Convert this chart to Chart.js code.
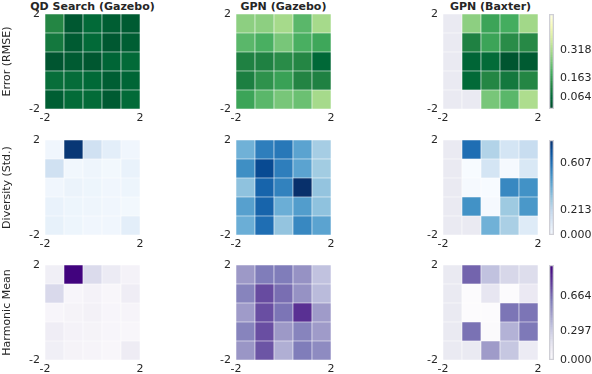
<!DOCTYPE html>
<html>
<head>
<meta charset="utf-8">
<script src="https://cdn.jsdelivr.net/npm/chart.js@4.4.0/dist/chart.umd.min.js"></script>
<style>
  body { margin: 0; width: 592px; height: 374px; overflow: hidden; background: #fff; position: relative; }
  canvas { position: absolute; }
  .title { position: absolute; top: 0; width: 200px; text-align: center; font: bold 11px 'DejaVu Sans'; line-height: 13px; color: #262626; white-space: nowrap; }
</style>
</head>
<body>
<script>
const methods = ['QD Search (Gazebo)', 'GPN (Gazebo)', 'GPN (Baxter)'];
const metrics = ['Error (RMSE)', 'Diversity (Std.)', 'Harmonic Mean'];
const axisTicks = [-2, 2];

// 5x5 grids, rows top -> bottom, columns left -> right, null = no data
const errQD = [
  [0.13, 0.035, 0.068, 0.045, 0.04],
  [0.10, 0.04, 0.068, 0.035, 0.045],
  [0.03, 0.04, 0.032, 0.058, 0.068],
  [0.078, 0.073, 0.066, 0.045, 0.058],
  [0.045, 0.07, 0.07, 0.04, 0.068]
];
const errGazebo = [
  [0.28, 0.28, 0.31, 0.22, 0.31],
  [0.22, 0.20, 0.255, 0.20, 0.185],
  [0.12, 0.12, 0.14, 0.13, 0.064],
  [0.115, 0.15, 0.175, 0.128, 0.12],
  [0.18, 0.22, 0.255, 0.24, 0.31]
];
const errBaxter = [
  [null, 0.28, 0.18, 0.195, 0.305],
  [null, 0.12, 0.18, 0.14, 0.135],
  [null, 0.058, 0.07, 0.03, 0.04],
  [null, 0.068, 0.13, 0.10, 0.13],
  [null, null, 0.255, 0.22, 0.32]
];
const divQD = [
  [0.03, 0.78, 0.16, 0.08, 0.03],
  [0.16, 0.025, 0.035, 0.02, 0.056],
  [0.03, 0.05, 0.04, 0.03, 0.04],
  [0.055, 0.04, 0.035, 0.03, 0.02],
  [0.065, 0.04, 0.03, 0.03, 0.08]
];
const divGazebo = [
  [0.39, 0.56, 0.58, 0.44, 0.28],
  [0.51, 0.72, 0.56, 0.44, 0.29],
  [0.33, 0.64, 0.55, 0.80, 0.32],
  [0.45, 0.64, 0.40, 0.46, 0.33],
  [0.40, 0.61, 0.32, 0.53, 0.44]
];
const divBaxter = [
  [null, 0.61, 0.25, 0.14, 0.19],
  [null, 0.0, 0.14, 0.01, 0.12],
  [null, 0.01, 0.0, 0.53, 0.50],
  [null, 0.50, 0.01, 0.30, 0.48],
  [null, null, 0.39, 0.27, 0.10]
];
const hmQD = [
  [0.11, 0.98, 0.24, 0.14, 0.08],
  [0.25, 0.05, 0.08, 0.04, 0.12],
  [0.05, 0.07, 0.09, 0.05, 0.06],
  [0.12, 0.08, 0.07, 0.05, 0.04],
  [0.11, 0.07, 0.06, 0.04, 0.13]
];
const hmGazebo = [
  [0.50, 0.62, 0.62, 0.53, 0.35],
  [0.59, 0.76, 0.66, 0.53, 0.38],
  [0.49, 0.75, 0.64, 0.84, 0.49],
  [0.59, 0.75, 0.50, 0.59, 0.49],
  [0.51, 0.73, 0.42, 0.62, 0.56]
];
const hmBaxter = [
  [null, 0.69, 0.35, 0.26, 0.23],
  [null, 0.0, 0.17, 0.0, 0.15],
  [null, 0.0, 0.0, 0.64, 0.64],
  [null, 0.65, 0.01, 0.41, 0.63],
  [null, null, 0.49, 0.33, 0.14]
];

// colorbar ticks and ranges
const errTicks = [0.064, 0.163, 0.318];
const divTicks = [0.000, 0.213, 0.607];
const hmTicks = [0.000, 0.297, 0.664];
const errMax = 0.51, divMax = 0.80, hmMax = 0.99;

const YlGn_r = ['#004529', '#006837', '#238443', '#41ab5d', '#78c679', '#addd8e', '#d9f0a3', '#f7fcb9', '#ffffe5'];
const Blues = ['#f7fbff', '#deebf7', '#c6dbef', '#9ecae1', '#6baed6', '#4292c6', '#2171b5', '#08519c', '#08306b'];
const Purples = ['#fcfbfd', '#efedf5', '#dadaeb', '#bcbddc', '#9e9ac8', '#807dba', '#6a51a3', '#54278f', '#3f007d'];
const nanColor = '#eaeaf2';
const textColor = '#262626';

function hex(h) { return [1, 3, 5].map(i => parseInt(h.substr(i, 2), 16)); }
function cmap(stops, t) {
  t = Math.max(0, Math.min(1, t));
  const p = t * (stops.length - 1);
  const i = Math.min(Math.floor(p), stops.length - 2);
  const f = p - i;
  const a = hex(stops[i]), b = hex(stops[i + 1]);
  const c = a.map((v, k) => Math.round(v + (b[k] - v) * f));
  return 'rgb(' + c.join(',') + ')';
}

Chart.defaults.font.family = 'DejaVu Sans';
Chart.defaults.font.size = 11;
Chart.defaults.color = textColor;

const rows = [
  { grids: [errQD, errGazebo, errBaxter], stops: YlGn_r, max: errMax, ticks: errTicks },
  { grids: [divQD, divGazebo, divBaxter], stops: Blues, max: divMax, ticks: divTicks },
  { grids: [hmQD, hmGazebo, hmBaxter], stops: Purples, max: hmMax, ticks: hmTicks }
];

const colLeft = [45, 236, 443];
const rowTop = [14, 140, 265];
const mapW = 95, mapH = 95;
const topPad = 14, bottomH = 17, rightPad = 8;

function addCanvas(left, top, w, h) {
  const c = document.createElement('canvas');
  c.width = w; c.height = h;
  c.style.left = left + 'px'; c.style.top = top + 'px';
  c.style.width = w + 'px'; c.style.height = h + 'px';
  document.body.appendChild(c);
  return c.getContext('2d');
}

function heatmap(r, c) {
  const row = rows[r];
  const grid = row.grids[c];
  const yW = c === 0 ? 45 : 25;
  const ctx = addCanvas(colLeft[c] - yW, rowTop[r] - topPad, yW + mapW + rightPad, topPad + mapH + bottomH);
  const n = grid.length, step = 4 / n;
  const cells = [];
  grid.forEach((vals, i) => vals.forEach((v, j) => {
    cells.push({ x: -2 + step * (j + 0.5), y: [2 - step * (i + 1), 2 - step * i], v: v });
  }));
  new Chart(ctx, {
    type: 'bar',
    data: {
      datasets: [{
        data: cells,
        backgroundColor: (cx) => {
          if (!cx.raw) return nanColor;
          return cx.raw.v === null ? nanColor : cmap(row.stops, cx.raw.v / row.max);
        },
        borderColor: '#ffffff',
        borderWidth: 0.6,
        borderSkipped: false,
        barPercentage: 1,
        categoryPercentage: 1
      }]
    },
    options: {
      responsive: false,
      animation: false,
      devicePixelRatio: 1,
      layout: { padding: { top: topPad, right: rightPad, left: 0, bottom: 0 } },
      plugins: { legend: { display: false }, tooltip: { enabled: false } },
      scales: {
        x: {
          type: 'linear', min: -2, max: 2, offset: false,
          grid: { display: false, drawTicks: false, offset: false }, border: { display: false },
          afterBuildTicks: (s) => { s.ticks = axisTicks.map(v => ({ value: v })); },
          afterFit: (s) => { s.height = bottomH; s.paddingLeft = 0; s.paddingRight = 0; },
          ticks: { padding: 3, maxRotation: 0, autoSkip: false, callback: (v) => String(v) }
        },
        y: {
          type: 'linear', min: -2, max: 2,
          grid: { display: false, drawTicks: false }, border: { display: false },
          afterBuildTicks: (s) => { s.ticks = axisTicks.map(v => ({ value: v })); },
          afterFit: (s) => { s.width = yW; s.paddingTop = 0; s.paddingBottom = 0; },
          ticks: { padding: 5, autoSkip: false, callback: (v) => String(v) },
          title: { display: c === 0, text: metrics[r], color: textColor, font: { size: 11 }, padding: { top: 1, bottom: 0 } }
        }
      }
    }
  });
}

function colorbar(r) {
  const row = rows[r];
  const barW = 5, axisW = 40;
  const ctx = addCanvas(549, rowTop[r] - topPad, barW + axisW, topPad + mapH + bottomH);
  const levels = 40;
  const segs = [];
  for (let k = 0; k < levels; k++) {
    segs.push({ x: 0, y: [row.max * k / levels, row.max * (k + 1) / levels], t: (k + 0.5) / levels });
  }
  new Chart(ctx, {
    type: 'bar',
    data: {
      datasets: [
        {
          data: segs,
          backgroundColor: (cx) => cx.raw ? cmap(row.stops, cx.raw.t) : '#fff',
          borderWidth: 0, barPercentage: 1, categoryPercentage: 1, order: 1
        },
        {
          data: [{ x: 0, y: [0, row.max] }],
          backgroundColor: 'rgba(0,0,0,0)', borderColor: '#cfcfd6', borderWidth: 1,
          borderSkipped: false, barPercentage: 1, categoryPercentage: 1, grouped: false, order: -1
        }
      ]
    },
    options: {
      responsive: false,
      animation: false,
      devicePixelRatio: 1,
      layout: { padding: { top: topPad, bottom: bottomH, left: 0, right: 0 } },
      plugins: { legend: { display: false }, tooltip: { enabled: false } },
      scales: {
        x: {
          type: 'linear', min: -0.5, max: 0.5, offset: false, display: false,
          afterBuildTicks: (s) => { s.ticks = []; }
        },
        y: {
          type: 'linear', position: 'right', min: 0, max: row.max,
          grid: { display: false, drawTicks: false }, border: { display: false },
          afterBuildTicks: (s) => { s.ticks = row.ticks.map(v => ({ value: v })); },
          afterFit: (s) => { s.width = axisW; s.paddingTop = 0; s.paddingBottom = 0; },
          ticks: { padding: 6, autoSkip: false, callback: (v) => v.toFixed(3) }
        }
      }
    }
  });
}

// column titles, centred over each map
methods.forEach((m, c) => {
  const d = document.createElement('div');
  d.className = 'title';
  d.textContent = m;
  d.style.left = (colLeft[c] + mapW / 2 - 100) + 'px';
  document.body.appendChild(d);
});

for (let r = 0; r < 3; r++) {
  for (let c = 0; c < 3; c++) heatmap(r, c);
  colorbar(r);
}
</script>
</body>
</html>
